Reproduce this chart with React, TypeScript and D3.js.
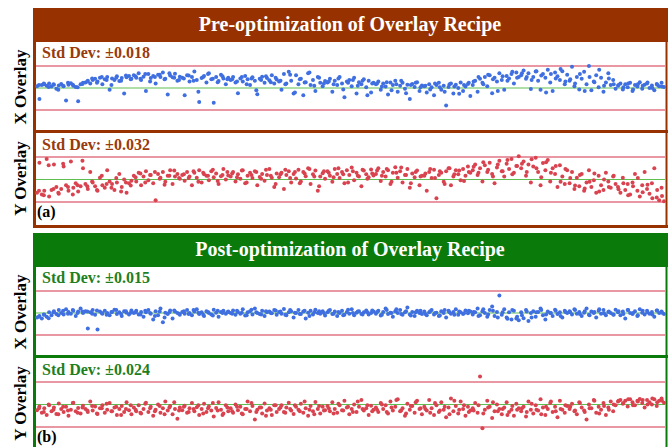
import React, { useEffect, useRef } from "react";
import * as d3 from "d3";

// overlay offsets in thousandths, limits are +/-60
const preX = [
  5, -30, 8, 10, 6, 12, 4, 9, -2, 7, 11, 5, -34, 9, 13, 6, 3, -36, 10, 14,
  15, 20, 12, 22, 25, 18, 28, 10, 24, 30, -5, 26, 22, 32, 19, 27, -15, 29, 33, 25,
  35, 28, 40, 22, 31, -8, 38, 27, 33, 12, 36, 30, 42, 25, -18, 34, 29, 39, 20, 31,
  28, -20, 35, 18, 30, 45, 22, -38, 27, 33, 15, 40, 24, -40, 30, 19, 36, 26, 10, 28,
  22, 30, 15, -14, 26, 18, 33, 24, 8, 29, 20, -17, 25, 31, 14, 27, 21, 35, 12, 23,
  18, -5, 38, 12, 44, 20, -15, 35, 10, 25, -20, 16, 40, 8, 22, -8, 30, 14, 5, 19,
  15, 25, -10, 20, 8, 30, 12, -25, 18, 22, 5, 28, -15, 16, 10, 24, 2, 20, -12, 14,
  10, 18, -5, 12, 4, -18, 15, 8, 20, -10, 6, 14, -2, 9, -30, 11, 3, 16, -8, 7,
  5, -12, 10, 2, -20, 8, 14, -5, 6, -48, 3, 12, -15, 9, 0, 15, -8, 4, 11, -22,
  8, 20, -10, 25, 14, 30, 5, 35, -14, 28, 18, 40, 22, -5, 33, 26, 38, 12, 42, 30,
  35, 48, 25, 40, -3, 30, 45, 20, -5, 38, 28, 50, 15, -8, 42, 32, 22, 46, 10, 36,
  20, 58, 5, 30, -4, 25, 44, 10, 60, -6, 18, 35, 2, 28, -10, 15, 40, 8, 22, -2,
  6, 12, -4, 10, 2, 14, -8, 8, 4, 16, -2, 9, 12, 0, 7, -6, 11, 5, 14, 3,
];
const preX2 = [
  8, 12, 3, 10, -5, 6, 14, 9, 2, 11,
  18, 26, 14, 30, 22, 8, 28, 20, 34, 24,
  32, 25, 38, 18, 30, 36, 24, 40, 28, 22,
  26, 34, 20, -10, 30, 38, 25, 16, 32, 24,
  24, 18, 30, 10, 26, -6, 22, 32, 16, 28,
  20, 10, 36, -12, 24, 15, 42, 6, 28, 12,
  18, 10, 26, -4, 14, 22, 6, 20, -20, 12,
  12, 4, 16, -6, 10, 20, -14, 8, 14, 2,
  6, -4, 12, 2, -10, 10, 4, -16, 8, 14,
  18, 30, 10, 36, 24, -8, 32, 20, 44, 28,
  40, 30, 22, 46, 34, -12, 38, 26, 52, 18,
  24, 12, 38, -8, 30, 16, 50, 6, 26, 10,
  8, 2, 12, -4, 10, 6, 15, 0, 9, 4,
];

const preY = [
  -35, 45, -40, -30, 55, -45, -28, 40, -20, -38, -25, 35, -15, -30, 48, -22, -10, -32, -18, 30,
  -12, -25, 20, -8, -18, -30, 5, -15, -22, 25, -5, -12, -28, -8, 15, -20, 0, -35, -10, -3,
  10, -5, 18, -15, 8, 22, -2, 12, -10, -55, 15, 5, 20, -6, 10, 25, -12, 8, 15, 2,
  12, -3, 20, 8, -15, 18, 5, 25, -8, 14, 10, -2, 22, 6, 16, -12, 9, 28, 0, 11,
  8, 20, -5, 14, 2, 25, -10, 10, 18, 4, 22, -15, 7, 15, -3, 12, 28, 5, -20, 16,
  6, 18, -25, 12, 22, -8, 15, 3, 26, -5, 20, 9, 30, -12, 14, 24, -30, 8, 17, 2,
  22, 10, -6, 28, 15, 4, 20, -10, 25, 12, 32, -2, 18, 8, -18, 24, 14, 6, 27, 11,
  15, 30, -4, 20, 8, 25, -12, 18, 33, 5, 22, -8, 12, 28, -22, 16, 6, 24, -15, 10,
  10, -30, 20, 4, 26, -50, 12, 18, -6, 22, 30, -15, 8, 25, 14, -2, 28, 10, 35, 18,
  25, 40, 12, 30, -5, 38, 20, 45, 15, -10, 32, 50, 22, 8, 42, 28, 55, 18, 36, 62,
  30, 48, 10, 40, -8, 35, 58, 20, -15, 44, 25, 52, -5, 30, 15, -20, 38, 8, -12, 25,
  -10, 20, -25, 5, -18, 15, -30, -8, 25, -20, -2, -35, 10, -15, -28, 18, -5, -22, 8, -12,
  -20, -35, 5, -28, -12, -40, -8, 15, -30, -45, -15, 20, -25, -38, -10, 30, -48, -55, -22, -58,
];
const preY2 = [
  -30, -42, 38, -25, -35, 42, -20, -40, -15, 50,
  -18, -5, -28, 10, -12, -22, 4, -32, -8, -16,
  6, 16, -8, 12, 20, 2, -14, 10, 24, 4,
  14, 4, 22, -6, 18, 10, 26, -4, 12, 20,
  16, 6, 24, -8, 12, 20, 2, 26, 10, -12,
  14, 26, 4, 20, -10, 16, 28, 8, -18, 22,
  18, 6, 30, 14, -8, 22, 10, 26, 2, 16,
  24, 10, 28, -6, 18, 32, 12, -10, 20, 8,
  16, 28, 4, 22, -12, 30, 14, 24, -4, 20,
  34, 18, 46, 26, 8, 40, 22, 52, 14, 36,
  42, 20, 54, 30, 6, 46, 18, 36, -6, 28,
  4, -16, 12, -24, -6, 16, -32, 0, -20, 10,
  -26, -10, -42, -18, 4, -34, -14, -50, -28, -44,
];

const postX = [
  -12, -8, -15, -5, -10, 2, -6, 5, -3, 8, 0, -4, 10, 3, -2, 6, -8, 4, 12, 0,
  5, -42, 2, 8, -5, -45, 4, -2, 6, 0, -6, 3, 9, -3, 2, -8, 5, 1, -4, 7,
  0, 6, -4, 3, -10, 2, 8, -2, -18, 5, -6, 12, -25, 1, -3, 7, -15, 4, 0, -5,
  3, -2, 8, 0, -6, 4, 10, -3, 2, -8, 5, 0, -4, 9, 1, -10, 3, 6, -2, 4,
  0, 7, -5, 3, -2, 10, -7, 2, 5, -4, 12, 0, -3, 6, -8, 2, 4, -1, 8, -5,
  3, -2, 11, -6, 2, 5, -12, 0, 8, -3, 4, -15, 1, 6, -4, 9, 0, -2, 5, -7,
  2, 8, -3, 4, -8, 0, 6, -5, 3, -2, 10, -6, 1, 5, -3, 2, 7, -4, 0, 4,
  -2, 6, -7, 3, 12, -3, 1, -10, 5, 0, 8, -5, 2, 15, -4, 3, -8, 6, 0, -3,
  4, -6, 2, 8, -4, 1, -8, 5, 0, -12, 6, -2, 3, 10, -5, 2, -3, 7, -1, 4,
  -4, 2, 12, -6, 5, 0, -10, 8, 18, -8, 3, 48, -5, 10, -12, 2, -18, 6, -15, -20,
  2, -14, 8, -22, 0, 5, -10, 3, 12, -6, -18, 4, 0, -8, 9, -3, 2, -12, 6, 0,
  5, -4, 10, -2, 3, -8, 1, 12, -5, 4, 0, -12, 6, -2, 8, -6, 3, 0, -4, 9,
  2, -6, 4, -15, 8, 0, -3, 5, -8, 10, 1, -4, 6, -2, 3, -10, 7, 0, 4, -3,
];
const postX2 = [
  -10, -4, -14, 2, -6, 6, -2, 8, 0, 4,
  4, -2, 7, 0, -5, 3, 8, -3, 5, 1,
  2, -4, 6, 0, -8, 4, -12, 2, 7, -2,
  5, -3, 8, 1, -5, 3, -7, 6, 0, 2,
  -2, 6, 1, -6, 9, 2, -4, 5, 0, 7,
  4, -5, 8, 1, -3, 6, -8, 2, 5, 0,
  6, -2, 3, -6, 9, 0, 4, -4, 2, 7,
  3, -5, 8, 0, 10, -3, 5, -7, 2, 6,
  -3, 5, 0, -7, 8, 2, -5, 4, -1, 6,
  3, -8, 10, -4, 6, -12, 2, -16, 8, -10,
  -6, 4, -12, 2, 8, -4, 0, 6, -8, 3,
  2, 8, -3, 5, -6, 3, 10, -1, 4, -5,
  5, -3, 8, 0, -6, 6, 2, -4, 7, 1,
];

const postY = [
  -15, -5, -22, -10, -28, -2, -18, -8, -25, 3, -12, -20, -6, -30, -14, 5, -18, -9, -24, -3,
  -12, -20, 8, -16, -5, -25, -10, -2, -22, -14, 4, -18, -8, -28, -12, -4, -20, 6, -15, -26,
  -8, -18, -2, -24, -12, 5, -20, -6, -30, -14, 0, -22, -10, 8, -16, -4, -26, -12, -38, -8,
  -15, -3, -22, -10, 4, -18, -7, -28, -12, 2, -20, -5, -16, -32, -9, 6, -14, -24, -2, -18,
  -10, -22, 0, -15, -6, -26, -12, 8, -18, -4, -40, -14, -8, -24, 3, -16, -10, -28, -2, -20,
  -12, -2, -20, -8, 5, -16, -25, -6, -14, 2, -22, -10, -30, -4, -18, 7, -12, -24, -6, -15,
  -4, -18, 6, -12, -22, -2, -15, 10, -8, -26, -12, 0, -20, -6, 12, -16, -10, -28, -3, -14,
  -8, -20, 4, -12, -2, -24, 8, -16, -6, 14, -18, -10, -30, 2, -14, -4, -22, 10, -12, -26,
  -6, -16, 12, -10, -28, -2, -20, 6, -14, -34, -8, 16, -18, -4, -24, 8, -12, -30, -6, -16,
  -10, 4, -22, 75, -63, -14, 10, -6, -36, -18, 0, -12, -26, -8, 6, -20, -14, -30, 2, -10,
  -18, -6, -32, 8, -14, -24, -2, -16, 14, -8, -28, -12, 4, -20, -6, -34, 10, -14, -22, -4,
  -12, 2, -18, -26, 6, -8, -16, -40, 0, -10, 12, -22, -6, -14, 4, -28, -8, 8, -18, -2,
  8, 12, 2, 10, -5, 14, 6, -2, 10, 15, 4, -8, 12, 6, 0, 14, -4, 10, 16, 5,
];
const postY2 = [
  -10, -20, 0, -14, -26, -6, -16, 4, -22, -8,
  -16, -4, -24, -10, 2, -18, -6, -28, -12, -2,
  -14, -22, 2, -10, -18, -4, -26, -8, 6, -16,
  -6, -20, -12, -2, -24, -10, 4, -16, -28, -8,
  -18, -6, -24, -12, 4, -20, -8, -30, -14, -2,
  -8, -22, -12, -2, -18, 8, -14, -26, -4, -16,
  -10, -24, 2, -16, -6, -20, 8, -12, -2, -18,
  -14, 0, -20, -8, 12, -16, -24, -4, 6, -10,
  -12, -22, 4, -16, -6, -26, 10, -14, -2, -20,
  -16, -2, -24, -8, 6, -18, -12, -28, -4, -14,
  -10, -20, 2, -14, -26, -6, 8, -18, -12, -2,
  -6, -16, 4, -20, -10, 10, -24, -4, -14, 0,
  10, 4, 14, -2, 8, 12, 0, 16, 6, 10,
];

const panels = [
  { title: "Pre-optimization of Overlay Recipe", tag: "(a)", frame: "#973200", text: "#983a0c", x: [preX, preX2], y: [preY, preY2], sdX: "Std Dev: \u00b10.018", sdY: "Std Dev: \u00b10.032" },
  { title: "Post-optimization of Overlay Recipe", tag: "(b)", frame: "#0a7a0a", text: "#1f7f1f", x: [postX, postX2], y: [postY, postY2], sdX: "Std Dev: \u00b10.015", sdY: "Std Dev: \u00b10.024" },
];

const font = "'Liberation Serif', 'Times New Roman', serif";

export default function App() {
  const ref = useRef<SVGSVGElement>(null);

  useEffect(() => {
    const svg = d3.select(ref.current);
    svg.selectAll("*").remove();

    panels.forEach((p, pi) => {
      const g = svg.append("g").attr("transform", `translate(0,${pi * 225})`);

      // header
      g.append("rect").attr("x", 33).attr("y", 8).attr("width", 635).attr("height", 34).attr("fill", p.frame);
      g.append("text")
        .attr("x", 350).attr("y", 31)
        .attr("text-anchor", "middle")
        .style("font-family", font).style("font-weight", "bold").style("font-size", "20px")
        .attr("fill", "#fff")
        .text(p.title);

      // frame
      g.append("line").attr("x1", 34.5).attr("x2", 34.5).attr("y1", 42).attr("y2", 228).attr("stroke", p.frame).attr("stroke-width", 3);
      g.append("line").attr("x1", 666.5).attr("x2", 666.5).attr("y1", 42).attr("y2", 228).attr("stroke", p.frame).attr("stroke-width", 2);
      g.append("line").attr("x1", 33).attr("x2", 668).attr("y1", 131.5).attr("y2", 131.5).attr("stroke", p.frame).attr("stroke-width", 3);
      g.append("line").attr("x1", 33).attr("x2", 668).attr("y1", 226.5).attr("y2", 226.5).attr("stroke", p.frame).attr("stroke-width", 3);

      const subs = [
        { data: p.x, sd: p.sdX, top: 66, bottom: 110, label: "X Overlay", color: "#3f6fe0", textY: 58 },
        { data: p.y, sd: p.sdY, top: 157, bottom: 202, label: "Y Overlay", color: "#d9434f", textY: 150 },
      ];

      subs.forEach((s) => {
        const y = d3.scaleLinear().domain([-60, 60]).range([s.bottom, s.top]);

        g.append("text")
          .attr("x", 42).attr("y", s.textY)
          .style("font-family", font).style("font-weight", "bold").style("font-size", "16px")
          .attr("fill", p.text)
          .text(s.sd);

        [-60, 60].forEach((v) => {
          g.append("line").attr("x1", 36).attr("x2", 665).attr("y1", y(v)).attr("y2", y(v))
            .attr("stroke", "#e07585").attr("stroke-width", 1.6);
        });
        g.append("line").attr("x1", 36).attr("x2", 665).attr("y1", y(0)).attr("y2", y(0))
          .attr("stroke", "#5cbf4f").attr("stroke-width", 1.2);

        s.data.forEach((arr, k) => {
          const x = d3.scaleLinear().domain([0, arr.length - 1]).range(k === 0 ? [37, 664] : [39, 662]);
          g.append("g")
            .selectAll("circle")
            .data(arr)
            .join("circle")
            .attr("cx", (d, i) => x(i))
            .attr("cy", (d) => y(d))
            .attr("r", 2)
            .attr("fill", s.color);
        });

        const mid = (s.top + s.bottom) / 2 - 1;
        g.append("text")
          .attr("transform", `translate(26,${mid}) rotate(-90)`)
          .attr("text-anchor", "middle")
          .style("font-family", font).style("font-weight", "bold").style("font-size", "17px")
          .attr("fill", "#000")
          .text(s.label);
      });

      g.append("text")
        .attr("x", 37).attr("y", 217)
        .style("font-family", font).style("font-weight", "bold").style("font-size", "16px")
        .attr("fill", "#000")
        .text(p.tag);
    });
  }, []);

  return (
    <svg ref={ref} width={670} height={447}
      style={{ position: "absolute", left: 0, top: 0, background: "#fff" }} />
  );
}
